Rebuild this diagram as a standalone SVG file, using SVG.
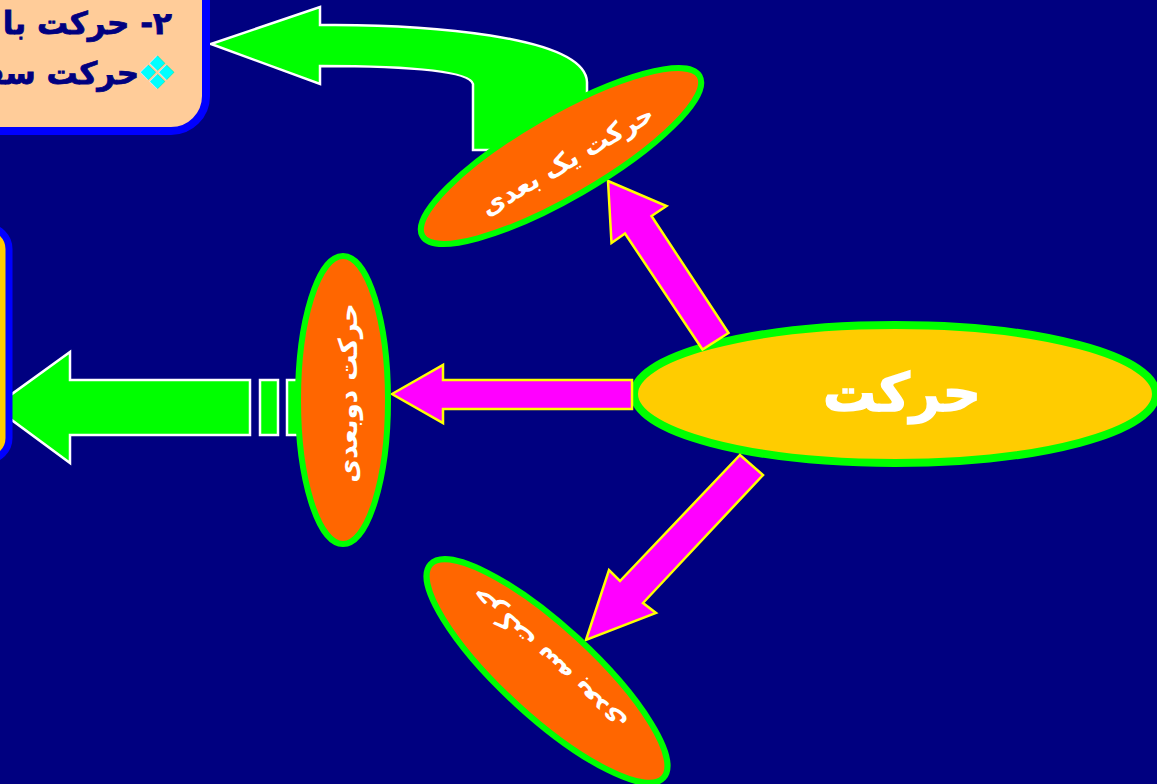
<svg xmlns="http://www.w3.org/2000/svg" width="1157" height="784" viewBox="0 0 1157 784">
  <style>
    .ar { font-family: "DejaVu Sans", "Noto Sans", sans-serif; font-weight: bold; }
    .lbl { fill: #FFFFFF; font-size: 26px; text-anchor: middle; }
    .oval { fill: #FF6600; stroke: #00FF00; stroke-width: 6; }
    .green-arrow { fill: #00FF00; stroke: #FFFFFF; stroke-width: 2.5; stroke-linejoin: miter; }
    .pink-arrow { fill: #FF00FF; stroke: #FFFF00; stroke-width: 2.5; stroke-linejoin: miter; }
    .boxtext { fill: #000080; font-size: 31px; }
  </style>

  <rect x="0" y="0" width="1157" height="784" fill="#000080"/>

  <!-- central topic -->
  <g id="node-motion">
    <ellipse cx="895" cy="394" rx="261" ry="69" fill="#FFCC00" stroke="#00FF00" stroke-width="8"/>
    <text class="ar" x="902" y="411" font-size="53" fill="#FFFFFF" text-anchor="middle" stroke="#FFFFFF" stroke-width="1.5">حرکت</text>
  </g>

  <!-- arrows -->
  <g id="connectors">
    <!-- bent arrow from 1D motion up-left to the note box -->
    <path class="green-arrow" d="M211,44 L320,7 L320,25 C420,24 585,35 587,82 L587,150 L473,150 L473,84 C470,72 420,66 320,66 L320,84 Z"/>
    <!-- straight arrow from 2D motion to the left box -->
    <path class="green-arrow" d="M-6,407 L70,352 L70,380 L250,380 L250,435 L70,435 L70,463 Z"/>
    <rect class="green-arrow" x="260" y="380" width="18" height="55"/>
    <rect class="green-arrow" x="287" y="380" width="14" height="55"/>

    <!-- motion -> 1D -->
    <path class="pink-arrow" d="M608,181 L666.5,206 L651.5,216 L728.5,333 L702.5,349.5 L625,233.5 L611.5,243 Z"/>
    <!-- motion -> 2D -->
    <path class="pink-arrow" d="M392,394 L443,365 L443,380 L632,380 L632,409 L443,409 L443,423 Z"/>
    <!-- motion -> 3D -->
    <path class="pink-arrow" d="M586,640 L609,570 L620,581 L740,455 L763,475 L643,603 L656,613 Z"/>
  </g>

  <g id="node-1d">
    <ellipse class="oval" cx="561" cy="156" rx="160" ry="42" transform="rotate(-30 561 156)"/>
    <text class="ar lbl" x="567" y="169" transform="rotate(-30 567 160)">حرکت یک بعدی</text>
  </g>

  <g id="node-2d">
    <ellipse class="oval" cx="343" cy="400" rx="45" ry="144"/>
    <text class="ar lbl" x="348" y="402" transform="rotate(-90 348 393)">حرکت دوبعدی</text>
  </g>

  <g id="node-3d">
    <ellipse class="oval" cx="547" cy="671" rx="158" ry="45" transform="rotate(42.5 547 671)"/>
    <text class="ar lbl" x="548" y="669" transform="rotate(-137.5 548 660)">حرکت سه بعدی</text>
  </g>

  <!-- note box, top left -->
  <g id="node-accel">
    <rect x="-100" y="-100" width="306" height="231" rx="35" fill="#FFCC99" stroke="#0000FF" stroke-width="8"/>
    <text class="ar boxtext" x="172" y="34" direction="rtl" text-anchor="start" stroke="#000080" stroke-width="0.8">۲- حرکت با شتاب ثابت</text>
    <text x="157" y="89" font-family="DejaVu Sans, sans-serif" font-size="46" fill="#00FFFF" text-anchor="middle">❖</text>
    <text class="ar boxtext" x="139" y="84" direction="rtl" text-anchor="start" stroke="#000080" stroke-width="0.8">حرکت سقوط آزاد</text>
  </g>

  <!-- box on the left edge -->
  <g id="node-left">
    <rect x="-200" y="227" width="209" height="233" rx="22" fill="#FFCC00" stroke="#0000FF" stroke-width="7"/>
  </g>
</svg>
